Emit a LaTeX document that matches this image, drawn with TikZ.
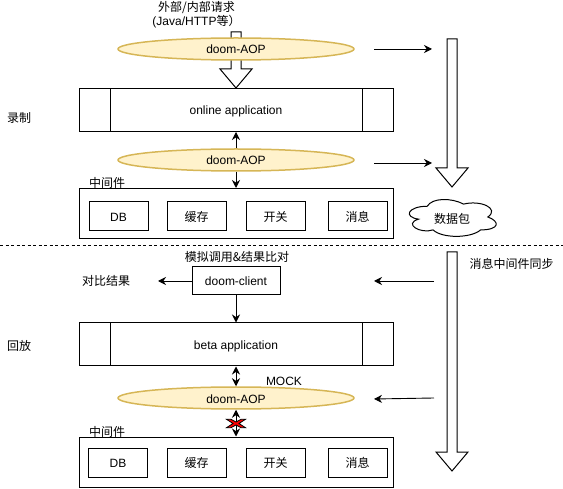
\documentclass[tikz,border=0pt]{standalone}
\usepackage{fontspec}
\setmainfont{Liberation Sans}
\newfontfamily\cjk{Noto Sans CJK SC}
\usetikzlibrary{arrows.meta,shapes.geometric}
\tikzset{
  every node/.style={font=\fontsize{12}{14}\selectfont},
  lbl/.style={inner sep=0pt,align=center,yshift=-1pt},
  box/.style={draw,line width=1pt,inner sep=0pt,text height=12pt,text depth=2pt},
  aop/.style={ellipse,draw=aopline,fill=aopfill,line width=1.5pt,minimum width=236,minimum height=22,inner sep=0pt,text height=12pt,text depth=2pt},
  conn/.style={line width=0.9pt,-{Stealth[length=8pt,width=8pt]}},
  twoway/.style={line width=0.9pt,{Stealth[length=8pt,width=8pt]}-{Stealth[length=8pt,width=8pt]}},
  blockline/.style={draw,fill=white,line width=1pt,line join=miter},
}
\definecolor{aopline}{HTML}{D6B656}
\definecolor{aopfill}{HTML}{FFF2CC}
\newcommand{\blockarrow}[4]{\draw[blockline] (#1-5,#2) -- (#1+5,#2) -- (#1+5,#3) -- (#1+16,#3) -- (#1,#4) -- (#1-16,#3) -- (#1-5,#3) -- cycle;}
\begin{document}
\begin{tikzpicture}[x=1pt,y=-1pt]
\useasboundingbox (0,0) rectangle (563,489);
% big arrows
\blockarrow{236}{32}{69}{88}
\blockarrow{452}{39}{168}{187}
\blockarrow{452}{252}{452}{471}
% record side
\node[lbl] (reqtxt) at (196.5,14) {\cjk 外部/内部请求\\(Java/HTTP{\cjk 等）}};
\node[aop] (aoptop) at (236,49) {doom-AOP};
\node[box,minimum width=314,minimum height=43] (online) at (236,110) {online application};
\draw[line width=1pt] (110,88.5) -- (110,131.5);
\draw[line width=1pt] (362,88.5) -- (362,131.5);
\node[aop] (aopmid) at (236,160) {doom-AOP};
\node[box,minimum width=314,minimum height=50] (mwrec) at (236,213.5) {};
\node[lbl] (mwrectxt) at (107,182) {\cjk 中间件};
\node[box,minimum width=59,minimum height=29] (dbrec) at (118.5,216.5) {DB};
\node[box,minimum width=59,minimum height=29] (cacherec) at (196.5,216.5) {\cjk 缓存};
\node[box,minimum width=59,minimum height=29] (switchrec) at (275.5,216.5) {\cjk 开关};
\node[box,minimum width=59,minimum height=29] (msgrec) at (357.5,216.5) {\cjk 消息};
\draw[conn] (aopmid) -- (online);
\draw[conn] (aopmid) -- (mwrec);
\node[lbl] (rectxt) at (19,117) {\cjk 录制};
\coordinate (ra1) at (374,49);
\coordinate (ra2) at (432,49);
\coordinate (rb1) at (374,163);
\coordinate (rb2) at (432,163);
\draw[conn] (ra1) -- (ra2);
\draw[conn] (rb1) -- (rb2);
% cloud outline
\draw[line width=1pt,fill=white,shift={(403,195.5)},x=97pt,y=-43pt] (.25,.25) .. controls (.05,.25) and (0,.5) .. (.16,.55)
  .. controls (0,.66) and (.18,.9) .. (.31,.8) .. controls (.4,1) and (.7,1) .. (.8,.8)
  .. controls (1,.8) and (1,.6) .. (.875,.5) .. controls (1,.3) and (.8,.1) .. (.625,.2)
  .. controls (.5,.05) and (.3,.05) .. (.25,.25) -- cycle;
\node[lbl] (pack) at (452,218) {\cjk 数据包};
% split
\coordinate (splita) at (0,245);
\coordinate (splitb) at (563,245);
\draw[dash pattern=on 3pt off 2.5pt,line width=0.8pt] (splita) -- (splitb);
% replay side
\node[lbl] (synctxt) at (511.5,263) {\cjk 消息中间件同步};
\node[lbl] (calltxt) at (237,256) {\cjk 模拟调用\&结果比对};
\node[box,minimum width=88,minimum height=28] (client) at (236,281) {doom-client};
\node[lbl] (cmptxt) at (106,280) {\cjk 对比结果};
\coordinate (cmpend) at (158,281);
\draw[conn] (client) -- (cmpend);
\node[box,minimum width=314,minimum height=43] (beta) at (236,344.5) {beta application};
\draw[line width=1pt] (110,323) -- (110,366);
\draw[line width=1pt] (362,323) -- (362,366);
\draw[conn] (client) -- (beta);
\node[lbl] (mocktxt) at (284,380) {MOCK};
\node[aop] (aopbot) at (236,398) {doom-AOP};
\draw[twoway] (beta) -- (aopbot);
\node[box,minimum width=314,minimum height=50] (mwrep) at (236,462) {};
\node[lbl] (mwreptxt) at (107,431) {\cjk 中间件};
\node[box,minimum width=59,minimum height=29] (dbrep) at (118,462.5) {DB};
\node[box,minimum width=59,minimum height=29] (cacherep) at (196.5,462.5) {\cjk 缓存};
\node[box,minimum width=59,minimum height=29] (switchrep) at (275.5,462.5) {\cjk 开关};
\node[box,minimum width=59,minimum height=29] (msgrep) at (357.5,462.5) {\cjk 消息};
\draw[twoway] (aopbot) -- (mwrep);
% red cross
\draw[fill=red,line width=0.8pt,shift={(236,423.5)}] (-9.5,-4.2) -- (-5,-4.2) -- (0,-1.5) -- (5,-4.2) -- (9.5,-4.2) -- (3,0)
  -- (9.5,4.2) -- (5,4.2) -- (0,1.5) -- (-5,4.2) -- (-9.5,4.2) -- (-3,0) -- cycle;
\node[lbl] (reptxt) at (19,345) {\cjk 回放};
\coordinate (rc1) at (434,281);
\coordinate (rc2) at (374,281);
\coordinate (rd1) at (434,398);
\coordinate (rd2) at (374,399);
\draw[conn] (rc1) -- (rc2);
\draw[conn] (rd1) -- (rd2);
\end{tikzpicture}
\end{document}
